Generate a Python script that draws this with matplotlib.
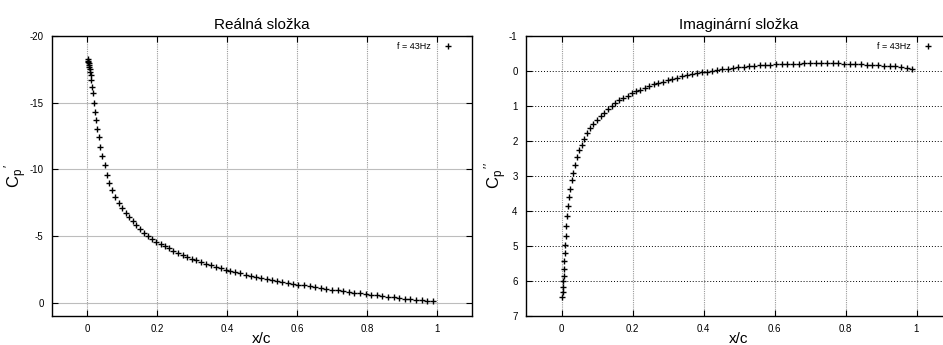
import matplotlib
matplotlib.use('Agg')
import matplotlib.pyplot as plt

# sampled chord positions (shared by both series)
x_c = [0.002, 0.003, 0.004, 0.005, 0.006, 0.007, 0.008, 0.009, 0.010, 0.012,
       0.014, 0.016, 0.019, 0.022, 0.025, 0.029, 0.033, 0.038, 0.044, 0.050,
       0.057, 0.064, 0.072, 0.081, 0.090, 0.100, 0.110, 0.120, 0.130, 0.141,
       0.152, 0.163, 0.174, 0.186, 0.198, 0.210, 0.222, 0.234, 0.247, 0.260,
       0.273, 0.286, 0.299, 0.312, 0.326, 0.340, 0.354, 0.368, 0.382, 0.396,
       0.410, 0.424, 0.438, 0.453, 0.468, 0.483, 0.498, 0.513, 0.528, 0.543,
       0.558, 0.573, 0.588, 0.604, 0.620, 0.636, 0.652, 0.668, 0.684, 0.700,
       0.716, 0.732, 0.748, 0.764, 0.780, 0.796, 0.812, 0.828, 0.844, 0.860,
       0.876, 0.892, 0.908, 0.924, 0.940, 0.956, 0.972, 0.988]

cp_real = [-18.25, -18.15, -18.05, -17.95, -17.8, -17.65, -17.5, -17.3, -17.1, -16.7,
           -16.2, -15.7, -15.0, -14.3, -13.7, -13.0, -12.4, -11.7, -11.0, -10.3,
           -9.6, -9.0, -8.45, -7.92, -7.5, -7.08, -6.72, -6.4, -6.1, -5.8,
           -5.52, -5.25, -5.0, -4.77, -4.58, -4.4, -4.23, -4.07, -3.9, -3.74,
           -3.59, -3.44, -3.3, -3.17, -3.04, -2.92, -2.8, -2.69, -2.58, -2.48,
           -2.38, -2.29, -2.2, -2.11, -2.02, -1.94, -1.86, -1.78, -1.71, -1.64,
           -1.57, -1.5, -1.43, -1.36, -1.29, -1.22, -1.16, -1.1, -1.04, -0.98,
           -0.92, -0.86, -0.8, -0.75, -0.69, -0.64, -0.59, -0.54, -0.49, -0.44,
           -0.4, -0.35, -0.31, -0.27, -0.23, -0.19, -0.15, -0.11]

cp_imag = [6.46, 6.31, 6.17, 6.0, 5.86, 5.66, 5.44, 5.21, 4.98, 4.7,
           4.42, 4.15, 3.86, 3.6, 3.36, 3.12, 2.9, 2.68, 2.47, 2.27,
           2.1, 1.94, 1.78, 1.63, 1.5, 1.39, 1.29, 1.19, 1.09, 1.0,
           0.91, 0.84, 0.77, 0.7, 0.64, 0.58, 0.53, 0.48, 0.43, 0.38,
           0.34, 0.3, 0.26, 0.23, 0.19, 0.15, 0.12, 0.09, 0.07, 0.04,
           0.02, -0.01, -0.03, -0.05, -0.07, -0.09, -0.11, -0.12, -0.14, -0.15,
           -0.16, -0.17, -0.18, -0.19, -0.2, -0.2, -0.21, -0.21, -0.22, -0.22,
           -0.22, -0.22, -0.22, -0.22, -0.22, -0.21, -0.21, -0.2, -0.19, -0.18,
           -0.17, -0.16, -0.15, -0.14, -0.13, -0.11, -0.1, -0.07]

x_ticks = [0, 0.2, 0.4, 0.6, 0.8, 1]
x_ticklabels = ['0', '0.2', '0.4', '0.6', '0.8', '1']
real_yticks = [-20, -15, -10, -5, 0]
imag_yticks = [-1, 0, 1, 2, 3, 4, 5, 6, 7]

plt.rcParams.update({
    'font.family': 'Liberation Sans',
    'mathtext.fontset': 'custom',
    'mathtext.rm': 'Liberation Sans',
    'mathtext.it': 'Liberation Sans',
})

fig = plt.figure(figsize=(9.43, 3.45), dpi=100)
ax1 = fig.add_axes([52 / 943, 29 / 345, 420 / 943, 280 / 345])
ax2 = fig.add_axes([526 / 943, 29 / 345, 426 / 943, 280 / 345])


def style_axes(ax, ylim, yticks, hgrid):
    ax.set_xlim(-0.1, 1.1)
    ax.set_ylim(*ylim)
    ax.set_xticks(x_ticks)
    ax.set_xticklabels(x_ticklabels)
    ax.set_yticks(yticks)
    ax.set_yticklabels([str(t) for t in yticks])
    ax.tick_params(direction='in', top=True, right=True, length=4,
                   labelsize=7, colors='black', pad=6, width=0.8)
    ax.xaxis.grid(True, color='#9a9a9a', linestyle=(0, (1, 1)), linewidth=0.8)
    ax.yaxis.grid(True, **hgrid)
    ax.set_axisbelow(True)
    for s in ax.spines.values():
        s.set_linewidth(1.0)
    ax.set_xlabel('x/c', fontsize=11, va='center')
    ax.xaxis.set_label_coords(0.5, -0.082)


ax1.plot(x_c, cp_real, '+', color='black', markersize=5, mew=1.0, label='f = 43Hz')
style_axes(ax1, (1, -20), real_yticks,
           dict(color='#bdbdbd', linestyle='-', linewidth=0.8))
ax1.set_title('Reálná složka', fontsize=11, pad=5)
ax1.set_ylabel(r"$\mathrm{C_p}^{\,\prime}$", fontsize=12, va='center')
ax1.yaxis.set_label_coords(-0.087, 0.5)

ax2.plot(x_c, cp_imag, '+', color='black', markersize=5, mew=1.0, label='f = 43Hz')
style_axes(ax2, (7, -1), imag_yticks,
           dict(color='black', linestyle=(0, (1, 2)), linewidth=0.7))
ax2.set_title('Imaginární složka', fontsize=11, pad=5)
ax2.set_ylabel(r"$\mathrm{C_p}^{\,\prime\prime}$", fontsize=12, va='center')
ax2.yaxis.set_label_coords(-0.07, 0.5)

for ax, w in ((ax1, 420), (ax2, 426)):
    ax.legend(loc='upper right', bbox_to_anchor=(1 - 11 / w, 1), frameon=False,
              markerfirst=False, fontsize=6.5, handlelength=1.5,
              handletextpad=1.2, borderaxespad=0.3)

fig.savefig('out.png', dpi=100)
